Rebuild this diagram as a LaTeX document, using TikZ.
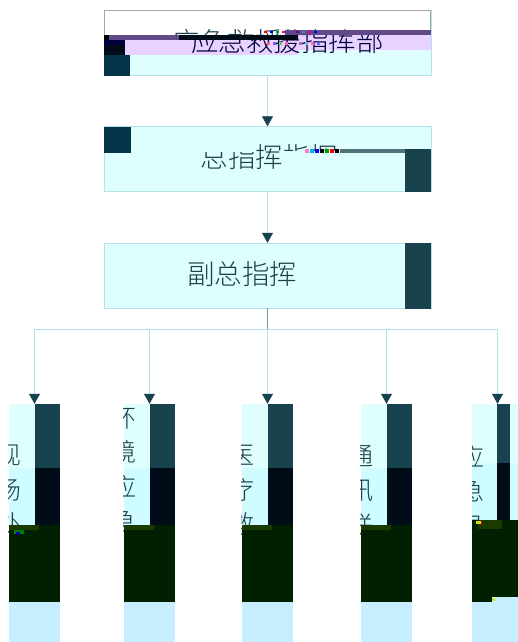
\documentclass[tikz,border=0pt]{standalone}
\usepackage{fontspec}
\usetikzlibrary{arrows.meta}
\newfontfamily\cjk{Noto Sans CJK SC Light}
\definecolor{boxcyan}{HTML}{DFFFFF}
\definecolor{midcyan}{HTML}{CFFCFF}
\definecolor{paleblue}{HTML}{C6EEFF}
\definecolor{edgeblue}{HTML}{B4E2EA}
\definecolor{darkteal}{HTML}{18434E}
\definecolor{deepteal}{HTML}{04344A}
\definecolor{inkblack}{HTML}{000C18}
\definecolor{darkgreen}{HTML}{002000}
\definecolor{mossgreen}{HTML}{1A3A00}
\definecolor{violetpale}{HTML}{E8D2FF}
\definecolor{violetdark}{HTML}{604A88}
\definecolor{navy}{HTML}{00003C}
\definecolor{inktext}{HTML}{1C3E48}
\begin{document}
\begin{tikzpicture}[
    x=1pt, y=-1pt,
    cmdbox/.style={rectangle, draw=edgeblue, fill=boxcyan, minimum width=327pt, minimum height=65pt, inner sep=0pt},
    teambox/.style={rectangle, fill=boxcyan, minimum width=51.5pt, minimum height=238pt, inner sep=0pt},
    cmdtext/.style={inner sep=0pt, text=inktext, font=\cjk\fontsize{27.5}{30}\selectfont},
    teamtext/.style={inner sep=0pt, anchor=north, align=center, text width=26pt, text=inktext, font=\cjk\fontsize{25}{34.5}\selectfont},
    link/.style={draw=edgeblue, thick},
    arrow/.style={link, -{Triangle[width=11pt, length=10pt, color=darkteal]}}
]
\useasboundingbox (0,0) rectangle (518,642);

% Command boxes
\node[cmdbox] (chief) at (267.5,43) {};
\node[cmdbox] (general) at (267.5,159) {};
\node[cmdbox] (deputy) at (267.5,275.5) {};

% Team boxes
\node[teambox] (site) at (34.5,523) {};
\node[teambox] (env) at (149.5,523) {};
\node[teambox] (med) at (267.5,523) {};
\node[teambox] (comm) at (386.5,523) {};
\node[teambox] (rec) at (497.5,523) {};
\coordinate (bus) at (267.5,329);

% Links
\draw[arrow] (chief) -- (general);
\draw[arrow] (general) -- (deputy);
\draw[thick, draw=edgeblue!55!darkteal] (deputy) -- (bus);
\draw[link] (bus -| site) -- (bus -| rec);
\foreach \n in {site,env,med,comm,rec} {
    \draw[arrow] (bus -| \n) -- (\n.north);
}

% Top box
\fill[white] (105,11) rectangle (430.5,35);
\draw[black!35] (104.5,10.5) -- (430.5,10.5) (104.5,10.5) -- (104.5,35) (430.5,10.5) -- (430.5,30);
\begin{scope}
    \clip (104,27) rectangle (431,35);
    \node[cmdtext] (chiefghost) at (269,42) {应急救援指挥部};
\end{scope}
\fill[violetpale] (125,40) rectangle (298,55);
\fill[violetpale] (298,35) rectangle (431,50);
\fill[violetdark] (285,30) rectangle (431,35);
\fill[violetdark] (109,35) rectangle (179,40);
\fill[inkblack] (179,35) rectangle (298,40);
\fill[navy] (104,40) rectangle (125,45);
\fill[inkblack] (104,45) rectangle (125,55);
\fill[deepteal] (104,55) rectangle (130,76);
\fill[black] (104,35) rectangle (109,40);
\begin{scope}
    \clip (104,40) rectangle (298,60) (298,35) rectangle (431,60);
    \node[cmdtext, text=black!75!blue] (chieftext) at (287.5,41) {应急救援指挥部};
\end{scope}
% noise
\foreach \x/\c in {264/red,270/blue,276/green!70!black,282/magenta,296/violet,302/cyan!70!black,308/magenta,314/blue} {
    \fill[\c] (\x,31) rectangle ++(3,2);
    \fill[\c!60] (\x+3,42) rectangle ++(3,3);
}

% Middle box
\begin{scope}
    \clip (104,152) rectangle (255,180) (255,140) rectangle (283,180) (283,140) rectangle (340,150);
    \node[cmdtext] (generaltext) at (269.5,157) {总指挥指挥};
\end{scope}
\fill[deepteal] (104,126.5) rectangle (130.5,153);
\fill[darkteal] (405,149) rectangle (431,192);
\fill[darkteal!75] (340,148.5) rectangle (405,153);
\foreach \x/\c in {305/magenta!50,310/cyan,315/blue,320/black,325/green!60!black,330/red,335/black} {
    \fill[\c] (\x,149) rectangle ++(4,4);
}

% Deputy box
\node[cmdtext] (deputytext) at (242,274) {副总指挥};
\fill[darkteal] (405,243) rectangle (431,308.5);

% Team labels
\foreach \n/\t/\y in {site/现\\场\\处/445,env/环\\境\\应\\急/408,med/医\\疗\\救/445,comm/通\\讯\\联/445} {
    \begin{scope}
        \clip (\n.north west) rectangle (\n.south east);
        \fill[midcyan] (\n.west |- 0,468) rectangle (\n.east |- 0,525);
        \node[teamtext] (\n text) at (\n.west |- 0,\y) {\t};
    \end{scope}
}

% Dark bands
\foreach \n in {site,env,med,comm} {
    \fill[darkteal] (\n.north) rectangle (\n.east |- 0,468);
    \fill[inkblack] (\n.center |- 0,468) rectangle (\n.east |- 0,525);
    \fill[darkgreen] (\n.west |- 0,525) rectangle (\n.east |- 0,602);
    \fill[mossgreen] (\n.west |- 0,525) rectangle ++(30,5);
    \fill[paleblue] (\n.west |- 0,602) rectangle (\n.south east);
}
% Last team box, its bands sit higher
\fill[midcyan] (472,463) rectangle (518,520);
\begin{scope}
    \clip (472,404) rectangle (518,520);
    \node[teamtext] (rec text) at (rec.west |- 0,445) {应\\急\\录};
\end{scope}
\fill[darkteal] (497,404) rectangle (510,463);
\fill[inkblack] (497,463) rectangle (510,520);
\fill[darkgreen] (472,520) rectangle (518,597);
\fill[darkgreen] (472,597) rectangle (492,602);
\fill[mossgreen] (478,520) rectangle (502,529);
\fill[paleblue] (472,602) rectangle (518,642);
\fill[paleblue] (495,597) rectangle (518,602);
\fill[yellow!80!green] (492,598) rectangle ++(3,3);
\fill[yellow!80!green] (476,521) rectangle ++(5,3);
\fill[red!80!black] (481,521) rectangle ++(1,4);
% noise
\fill[green!50!black] (14,530) rectangle ++(10,4);
\fill[blue!70!black] (16,532) rectangle ++(4,3);
\end{tikzpicture}
\end{document}
